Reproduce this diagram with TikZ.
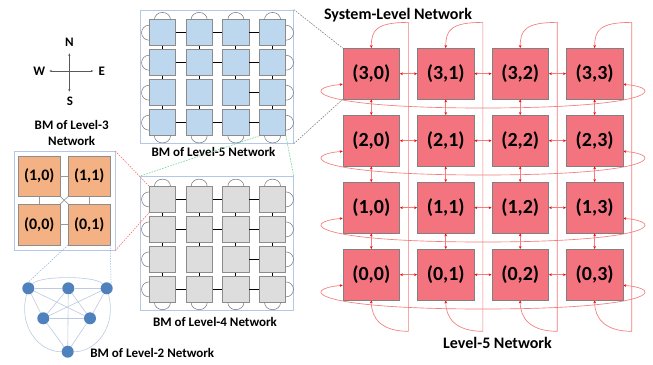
\documentclass[tikz,border=0pt]{standalone}
\usepackage{fontspec}
\setmainfont{Carlito}
\usetikzlibrary{calc,arrows.meta}
\pgfdeclarelayer{paper}
\pgfdeclarelayer{bg}
\pgfsetlayers{paper,bg,main}
\definecolor{sysred}{HTML}{F3747F}
\definecolor{lnred}{HTML}{F47C7C}
\definecolor{bmblue}{HTML}{BDD7EE}
\definecolor{bmgray}{HTML}{DDDDDD}
\definecolor{bmorange}{HTML}{F4B183}
\definecolor{framec}{HTML}{B4C7E7}
\definecolor{nodeblue}{HTML}{4F81BD}
\definecolor{edgeblue}{HTML}{BCCBE0}
\definecolor{gdash}{HTML}{6FD699}
\definecolor{rdash}{HTML}{FF6B6B}
\definecolor{bdash}{HTML}{8AB0DD}
\begin{document}
\begin{tikzpicture}[x=1pt,y=-1pt,
  sysbox/.style={draw=black!50,line width=0.7pt,fill=sysred,minimum width=56.5pt,minimum height=50.5pt,inner sep=0pt,font=\fontsize{20}{24}\selectfont\bfseries},
  bluebox/.style={draw=black!45,line width=0.5pt,fill=bmblue,minimum width=26.3pt,minimum height=26pt,inner sep=0pt},
  graybox/.style={bluebox,fill=bmgray},
  orbox/.style={draw=black!45,line width=0.5pt,fill=bmorange,minimum width=41.7pt,minimum height=40.5pt,inner sep=0pt,font=\fontsize{16}{19}\selectfont\bfseries},
  frame/.style={draw=framec,line width=0.9pt,inner sep=0pt},
  lbl/.style={font=\fontsize{13}{16.5}\selectfont\bfseries,inner sep=0pt,align=center},
  biglbl/.style={font=\fontsize{16}{19}\selectfont\bfseries,inner sep=0pt},
  redln/.style={draw=lnred,line width=0.65pt},
  redarr/.style={redln,{Stealth[length=3pt,width=2.6pt,color=red]}-{Stealth[length=3pt,width=2.6pt,color=red]}},
  conn/.style={draw=black,line width=0.9pt},
  loopc/.style={draw=black!55,line width=0.5pt},
  l3conn/.style={draw=black!40,line width=0.7pt},
  compass/.style={draw=black!65,line width=0.6pt,{Stealth[length=2.6pt,width=2.2pt]}-{Stealth[length=2.6pt,width=2.2pt]}},
  gdashln/.style={draw=black!55,line width=0.5pt,dash pattern=on 1.6pt off 1.2pt},
  rdashln/.style={draw=rdash,line width=0.6pt,dash pattern=on 1.4pt off 1.2pt},
  grdashln/.style={draw=gdash,line width=0.6pt,dash pattern=on 1.6pt off 1.2pt},
  bdashln/.style={draw=bdash,line width=0.5pt,dash pattern=on 1.4pt off 1.2pt},
  gnode/.style={circle,fill=nodeblue,minimum size=12pt,inner sep=0pt},
  gedge/.style={draw=edgeblue,line width=0.6pt},
  gedgeth/.style={draw=edgeblue,line width=1.4pt}
]
\useasboundingbox (0,0) rectangle (653,364);
\begin{pgfonlayer}{paper}
\fill[white] (0,0) rectangle (653,364);
\end{pgfonlayer}

% ---------------- System-level network ----------------
\foreach \r in {0,...,3} {
  \foreach \c in {0,...,3} {
    \node[sysbox] (s\r\c) at ({371.3+74.45*\c},{73.7+67*(3-\r)}) {(\r,\c)};
  }
}
\begin{pgfonlayer}{bg}
\foreach \r in {0,...,3} {
  \draw[redarr] ($(s\r0.west)+(0,10.6)$) .. controls +(-43,3.7) and +(-172,0) ..
     ($0.5*(s\r0.center)+0.5*(s\r3.center)+(0,34.3)$) .. controls +(172,0) and +(43,3.7) ..
     ($(s\r3.east)+(0,10.6)$);
}
\foreach \c in {0,...,3} {
  \coordinate (vt\c) at ($(s3\c.north east)+(8.5,-25.7)$);
  \coordinate (vb\c) at ($(s0\c.south east)+(8.5,31)$);
  \draw[redarr] (s0\c.south) .. controls +(0,18) and +(-27,0) .. (vb\c) -- (vt\c)
     .. controls +(-32,0) and +(0,-18) .. (s3\c.north);
}
\end{pgfonlayer}
\foreach \r in {0,...,3} {
  \foreach \c/\d in {0/1,1/2,2/3} {
    \draw[redarr] (s\r\c.east) -- (s\r\d.west);
  }
}
\foreach \r/\s in {3/2,2/1,1/0} {
  \foreach \c in {0,...,3} {
    \draw[redarr] (s\r\c.south) -- (s\s\c.north);
  }
}
\node[biglbl] (tsys) at (398,15) {System-Level Network};
\node[biglbl] (tl5) at (497.5,343) {Level-5 Network};

% ---------------- BM of Level-5 and Level-4 ----------------
\node[frame,minimum width=153.3pt,minimum height=133.3pt] (f5) at (216.65,76.65) {};
\node[frame,minimum width=153.3pt,minimum height=133.3pt] (f4) at (216.65,243.35) {};
\foreach \r in {0,...,3} {
  \foreach \c in {0,...,3} {
    \node[bluebox] (p\r\c) at ({162.45+36.7*\c},{32.7+30*\r}) {};
    \node[graybox] (q\r\c) at ({162.45+36.7*\c},{199.4+30*\r}) {};
  }
}
\foreach \n in {p,q} {
  \foreach \r in {0,1,3} {
    \foreach \c/\d in {0/1,1/2,2/3} {
      \draw[conn] (\n\r\c.east) -- (\n\r\d.west);
    }
  }
  \draw[conn] (\n22.east) -- (\n23.west);
  \foreach \r/\s in {0/1,1/2,2/3} {
    \foreach \c in {0,...,3} {
      \draw[conn] (\n\r\c.south) -- (\n\s\c.north);
    }
  }
  \foreach \c in {0,...,3} {
    \draw[loopc] ($(\n0\c.north)+(8,0)$) arc[start angle=0,end angle=180,x radius=8pt,y radius=7pt];
    \draw[loopc] ($(\n3\c.south)+(-8,0)$) arc[start angle=180,end angle=360,x radius=8pt,y radius=7pt];
  }
  \foreach \r in {0,...,3} {
    \draw[loopc] ($(\n\r0.west)+(0,-7.5)$) arc[start angle=90,end angle=270,x radius=7.5pt,y radius=7.5pt];
    \draw[loopc] ($(\n\r3.east)+(0,7.5)$) arc[start angle=270,end angle=450,x radius=7.5pt,y radius=7.5pt];
  }
}
\node[lbl] (t5) at (213.5,151.5) {BM of Level-5 Network};
\node[lbl] (t4) at (215,322) {BM of Level-4 Network};

% ---------------- Compass ----------------
\coordinate (cn) at (69.3,53.3);
\coordinate (cs) at (69.3,91.7);
\coordinate (cw) at (49.3,71);
\coordinate (ce) at (93.3,71);
\draw[compass] (cs) -- (cn);
\draw[compass] (cw) -- (ce);
\node[lbl] (lN) at (69.3,42.7) {N};
\node[lbl] (lS) at (70,101.7) {S};
\node[lbl] (lW) at (39.3,71) {W};
\node[lbl] (lE) at (101.7,71) {E};

% ---------------- BM of Level-3 ----------------
\node[lbl] (t3) at (71.7,133.2) {BM of Level-3\\Network};
\node[frame,minimum width=100.7pt,minimum height=98.3pt] (f3) at (64.65,200.85) {};
\node[orbox] (c10) at (39.2,176) {(1,0)};
\node[orbox] (c11) at (89.2,176) {(1,1)};
\node[orbox] (c00) at (39.2,224.5) {(0,0)};
\node[orbox] (c01) at (89.2,224.5) {(0,1)};
\draw[l3conn] (c10.east) -- (c11.west);
\draw[l3conn] (c00.east) -- (c01.west);
\draw[l3conn] (c10.south) -- (c00.north);
\draw[l3conn] (c11.south) -- (c01.north);
\draw[l3conn] (c10.south east) -- (c01.north west);
\draw[l3conn] (c11.south west) -- (c00.north east);

% ---------------- BM of Level-2 ----------------
\node[gnode] (na) at (28.3,288.3) {};
\node[gnode] (nb) at (68.3,288.3) {};
\node[gnode] (nc) at (106.7,288.3) {};
\node[gnode] (nd) at (43.3,318.3) {};
\node[gnode] (ne) at (90,318.3) {};
\node[gnode] (nf) at (67.7,351.7) {};
\begin{pgfonlayer}{bg}
\draw[gedgeth] (na) -- (nb);
\draw[gedgeth] (nb) -- (nc);
\draw[gedge] (na) .. controls (40,275.5) and (95,275.5) .. (nc);
\draw[gedge] (na) .. controls (18,325) and (38,352) .. (nf);
\draw[gedge] (nc) .. controls (117,325) and (97,352) .. (nf);
\draw[gedge] (na) -- (nd);
\draw[gedge] (na) -- (ne);
\draw[gedge] (nb) -- (nd);
\draw[gedge] (nb) -- (ne);
\draw[gedge] (nb) -- (nf);
\draw[gedge] (nc) -- (nd);
\draw[gedge] (nc) -- (ne);
\draw[gedge] (nd) -- (ne);
\draw[gedge] (nd) -- (nf);
\draw[gedge] (ne) -- (nf);
\end{pgfonlayer}
\node[lbl] (t2) at (152.3,353) {BM of Level-2 Network};

% ---------------- zoom guide lines ----------------
\draw[gdashln] (f5.north east) -- (s30.north west);
\draw[gdashln] (f5.south east) -- (s30.south west);
\draw[grdashln] (p33.south west) -- (f4.north west);
\draw[grdashln] (p33.south east) -- (f4.north east);
\draw[rdashln] (f3.north east) -- (q00.north west);
\draw[rdashln] (f3.south east) -- (q00.south west);
\draw[bdashln] (c01.south west) -- (na.north);
\draw[bdashln] (c01.south east) -- (nc.north east);
\end{tikzpicture}
\end{document}
